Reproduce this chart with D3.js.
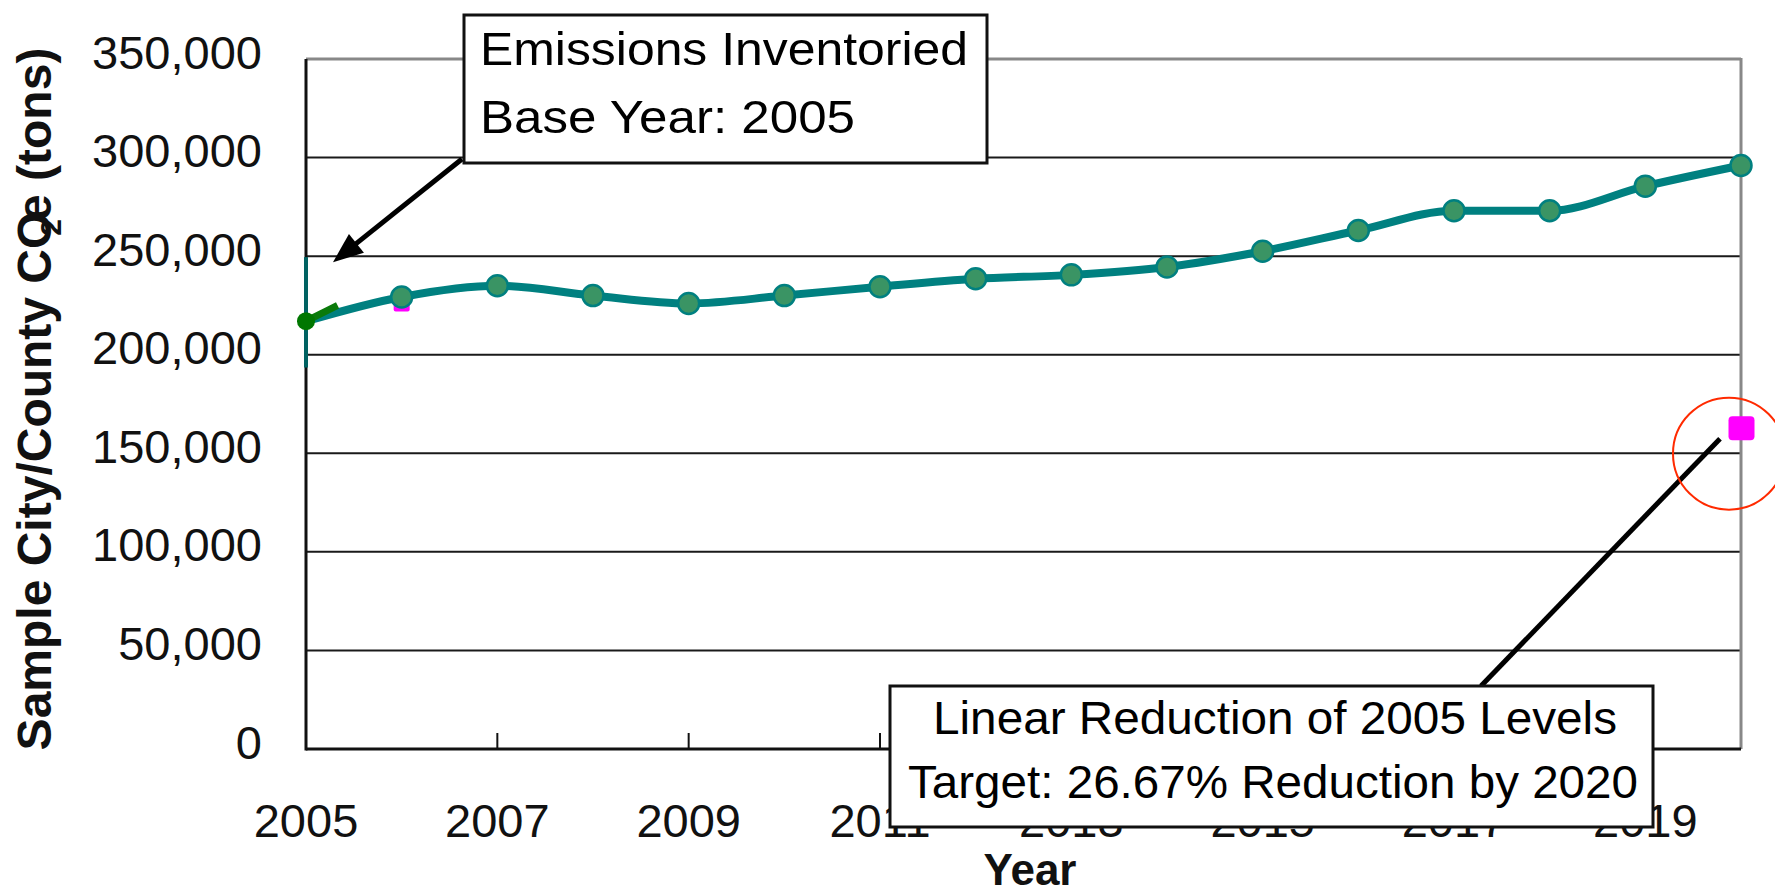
<!DOCTYPE html>
<html><head><meta charset="utf-8">
<script src="https://cdn.jsdelivr.net/npm/d3@7"></script>
<style>html,body{margin:0;padding:0;background:#fff;overflow:hidden;} svg{display:block;}</style>
</head><body>
<script>
// ---------- data ----------
const years = [2005, 2006, 2007, 2008, 2009, 2010, 2011, 2012, 2013, 2014, 2015, 2016, 2017, 2018, 2019, 2020];
const emissions = [217000, 229300, 235000, 230000, 226000, 230000, 234500, 238500, 240500, 244500, 252500, 263000, 273000, 273000, 285500, 296000];
const baseYears = [2005, 2005.33];
const baseValues = [217000, 225000];
const baseRange = [193500, 249500];
const targetYears = [2006, 2020];
const targetValues = [226000, 162500];
const yTicks = [0, 50000, 100000, 150000, 200000, 250000, 300000, 350000];
const xTickYears = [2005, 2007, 2009, 2011, 2013, 2015, 2017, 2019];
const note1 = ["Emissions Inventoried", "Base Year: 2005"];
const note2 = ["Linear Reduction of 2005 Levels", "Target: 26.67% Reduction by 2020"];

// ---------- layout ----------
const W = 1775, H = 892;
const FONT = "'Liberation Sans', Arial, Helvetica, sans-serif";
const x = d3.scaleLinear().domain([2005, 2020]).range([306, 1741]);
const y = d3.scaleLinear().domain([0, 350000]).range([749, 59]);
const fmt = d3.format(",");

const svg = d3.select("body").append("svg").attr("width", W).attr("height", H)
  .style("font-family", FONT);

// gridlines
svg.append("g").selectAll("line").data(yTicks.filter(d => d > 0 && d < 350000)).join("line")
  .attr("x1", x(2005)).attr("x2", x(2020)).attr("y1", d => y(d)).attr("y2", d => y(d))
  .attr("stroke", "#1a1a1a").attr("stroke-width", 2);
// top & right border (gray)
svg.append("line").attr("x1", x(2005)).attr("x2", x(2020)).attr("y1", y(350000)).attr("y2", y(350000))
  .attr("stroke", "#888").attr("stroke-width", 3);
svg.append("line").attr("x1", x(2020)).attr("x2", x(2020)).attr("y1", y(350000) - 1).attr("y2", y(0))
  .attr("stroke", "#888").attr("stroke-width", 3);
// axes (black)
svg.append("line").attr("x1", x(2005)).attr("x2", x(2020)).attr("y1", y(0)).attr("y2", y(0))
  .attr("stroke", "#111").attr("stroke-width", 3);
svg.append("line").attr("x1", x(2005)).attr("x2", x(2005)).attr("y1", y(350000)).attr("y2", y(0) + 1.5)
  .attr("stroke", "#111").attr("stroke-width", 3);
// x ticks (inside)
svg.append("g").selectAll("line").data(xTickYears.filter(d => d > 2005)).join("line")
  .attr("x1", d => x(d)).attr("x2", d => x(d)).attr("y1", y(0)).attr("y2", y(0) - 16)
  .attr("stroke", "#111").attr("stroke-width", 2);

// y tick labels
svg.append("g").selectAll("text").data(yTicks).join("text")
  .attr("x", 262).attr("y", d => y(d) + 9.5).attr("text-anchor", "end")
  .attr("font-size", 47).attr("fill", "#111").text(d => fmt(d));
// x tick labels
svg.append("g").selectAll("text").data(xTickYears).join("text")
  .attr("x", d => x(d)).attr("y", 837).attr("text-anchor", "middle")
  .attr("font-size", 47).attr("fill", "#111").text(d => String(d));

// hidden target marker at 2006 (under the series, only its lower edge shows)
svg.append("rect")
  .attr("x", x(targetYears[0]) - 8).attr("y", y(targetValues[0]) - 8)
  .attr("width", 16).attr("height", 16).attr("rx", 2).attr("fill", "#ff00ff");

// vertical base-year range line
svg.append("line").attr("x1", x(2005)).attr("x2", x(2005))
  .attr("y1", y(baseRange[1])).attr("y2", y(baseRange[0]))
  .attr("stroke", "#006262").attr("stroke-width", 4);

// main series line
const pts = years.map((yr, i) => [yr, emissions[i]]);
svg.append("path").datum(pts)
  .attr("d", d3.line().x(d => x(d[0])).y(d => y(d[1])).curve(d3.curveMonotoneX))
  .attr("fill", "none").attr("stroke", "#008080").attr("stroke-width", 8).attr("stroke-linejoin", "round");
svg.append("g").selectAll("circle").data(pts.slice(1)).join("circle")
  .attr("cx", d => x(d[0])).attr("cy", d => y(d[1])).attr("r", 10.5)
  .attr("fill", "#3a9464").attr("stroke", "#008080").attr("stroke-width", 2.5);

// base-year series
const basePts = baseYears.map((yr, i) => [yr, baseValues[i]]);
svg.append("path").datum(basePts)
  .attr("d", d3.line().x(d => x(d[0])).y(d => y(d[1])))
  .attr("fill", "none").attr("stroke", "#0a7a0a").attr("stroke-width", 7);
svg.append("circle").attr("cx", x(basePts[0][0])).attr("cy", y(basePts[0][1])).attr("r", 9)
  .attr("fill", "#007700");

// target marker 2020
const sq = 25;
svg.append("rect")
  .attr("x", x(targetYears[1]) - sq / 2).attr("y", y(targetValues[1]) - sq / 2)
  .attr("width", sq + 1).attr("height", sq - 1).attr("rx", 4).attr("fill", "#ff00ff");

// ---------- annotation 1 ----------
const b1 = {x: 464, y: 15, w: 523, h: 148};
const tip1 = [x(2005) + 27, y(250000) + 6];
const from1 = [b1.x - 2, b1.y + b1.h - 4];
{
  const dx = tip1[0] - from1[0], dy = tip1[1] - from1[1];
  const L = Math.hypot(dx, dy), ux = dx / L, uy = dy / L;
  const hl = 30, hw = 12;
  const bx = tip1[0] - ux * hl, by = tip1[1] - uy * hl;
  svg.append("line").attr("x1", from1[0]).attr("y1", from1[1]).attr("x2", bx + ux * 4).attr("y2", by + uy * 4)
    .attr("stroke", "#000").attr("stroke-width", 5);
  svg.append("polygon").attr("points", [
    tip1, [bx - uy * hw, by + ux * hw], [bx + uy * hw, by - ux * hw]
  ].map(p => p.join(",")).join(" ")).attr("fill", "#000");
}
svg.append("rect").attr("x", b1.x).attr("y", b1.y).attr("width", b1.w).attr("height", b1.h)
  .attr("fill", "#fff").attr("stroke", "#111").attr("stroke-width", 3);
svg.append("text").attr("x", 480).attr("y", 65).attr("font-size", 47).attr("fill", "#000")
  .attr("textLength", 488).attr("lengthAdjust", "spacingAndGlyphs").text(note1[0]);
svg.append("text").attr("x", 480).attr("y", 133).attr("font-size", 47).attr("fill", "#000")
  .attr("textLength", 375).attr("lengthAdjust", "spacingAndGlyphs").text(note1[1]);

// ---------- annotation 2 ----------
const b2 = {x: 890, y: 686, w: 763, h: 141};
svg.append("line").attr("x1", 1481).attr("y1", b2.y)
  .attr("x2", x(targetYears[1]) - 21).attr("y2", y(targetValues[1]) + 10)
  .attr("stroke", "#000").attr("stroke-width", 5);
svg.append("rect").attr("x", b2.x).attr("y", b2.y).attr("width", b2.w).attr("height", b2.h)
  .attr("fill", "#fff").attr("stroke", "#111").attr("stroke-width", 3);
svg.append("text").attr("x", 1275).attr("y", 734).attr("text-anchor", "middle").attr("font-size", 46)
  .attr("fill", "#000").attr("textLength", 684).attr("lengthAdjust", "spacingAndGlyphs").text(note2[0]);
svg.append("text").attr("x", 1273).attr("y", 798).attr("text-anchor", "middle").attr("font-size", 46)
  .attr("fill", "#000").attr("textLength", 730).attr("lengthAdjust", "spacingAndGlyphs").text(note2[1]);

// red highlight circle around target
svg.append("circle").attr("cx", x(targetYears[1]) - 12).attr("cy", y(targetValues[1]) + 25).attr("r", 56)
  .attr("fill", "none").attr("stroke", "#ff2a00").attr("stroke-width", 2);

// ---------- axis titles ----------
svg.append("text").attr("x", 1030).attr("y", 885).attr("text-anchor", "middle")
  .attr("font-size", 44).attr("font-weight", "bold").attr("fill", "#111").text("Year");

const yt = svg.append("text").attr("transform", "translate(51,399) rotate(-90)")
  .attr("text-anchor", "middle").attr("font-size", 48).attr("font-weight", "bold").attr("fill", "#111");
yt.append("tspan").text("Sample City/County CO");
yt.append("tspan").attr("font-size", 30).attr("dx", -24).attr("dy", 10).text("2");
yt.append("tspan").attr("dy", -10).attr("dx", -2).text("e (tons)");
</script>
</body></html>
